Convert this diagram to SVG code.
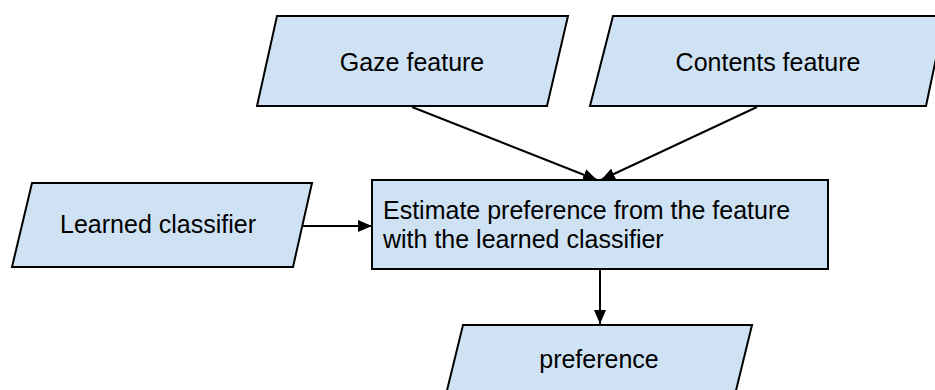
<svg xmlns="http://www.w3.org/2000/svg" width="935" height="390" viewBox="0 0 935 390">
  <style>
    .shape { fill: #cfe2f3; stroke: #000; stroke-width: 2; stroke-linejoin: miter; }
    .label { font-family: "Liberation Sans", Arial, sans-serif; font-size: 25px; fill: #000; }
    .mid { text-anchor: middle; }
    .edge { stroke: #000; stroke-width: 2; fill: none; marker-end: url(#arrow); }
  </style>
  <defs>
    <marker id="arrow" viewBox="0 0 14 12" refX="14" refY="6" markerWidth="14" markerHeight="12" markerUnits="userSpaceOnUse" orient="auto">
      <path d="M0,0 L14,6 L0,12 Z" fill="#000"/>
    </marker>
  </defs>
  <rect width="935" height="390" fill="#fff"/>

  <g id="connectors">
    <line class="edge" x1="412" y1="107" x2="597" y2="180"/>
    <line class="edge" x1="757" y1="107" x2="601" y2="180"/>
    <line class="edge" x1="302" y1="226" x2="372" y2="226"/>
    <line class="edge" x1="600" y1="270" x2="600" y2="324"/>
  </g>

  <g id="gaze-feature">
    <polygon class="shape" points="277,16 568,16 547,106 257,106"/>
    <text class="label mid" x="412" y="71">Gaze feature</text>
  </g>

  <g id="contents-feature">
    <polygon class="shape" points="613,16 945,16 926,106 590,106"/>
    <text class="label mid" x="768" y="71">Contents feature</text>
  </g>

  <g id="learned-classifier">
    <polygon class="shape" points="32,183 312,183 293,267 12,267"/>
    <text class="label mid" x="158" y="233">Learned classifier</text>
  </g>

  <g id="estimate">
    <rect class="shape" x="372" y="180" width="456" height="89"/>
    <text class="label" x="383" y="219">Estimate preference from the feature</text>
    <text class="label" x="383" y="248">with the learned classifier</text>
  </g>

  <g id="preference">
    <polygon class="shape" points="463,325 752,325 730,415 441,415"/>
    <text class="label mid" x="599" y="368">preference</text>
  </g>
</svg>
